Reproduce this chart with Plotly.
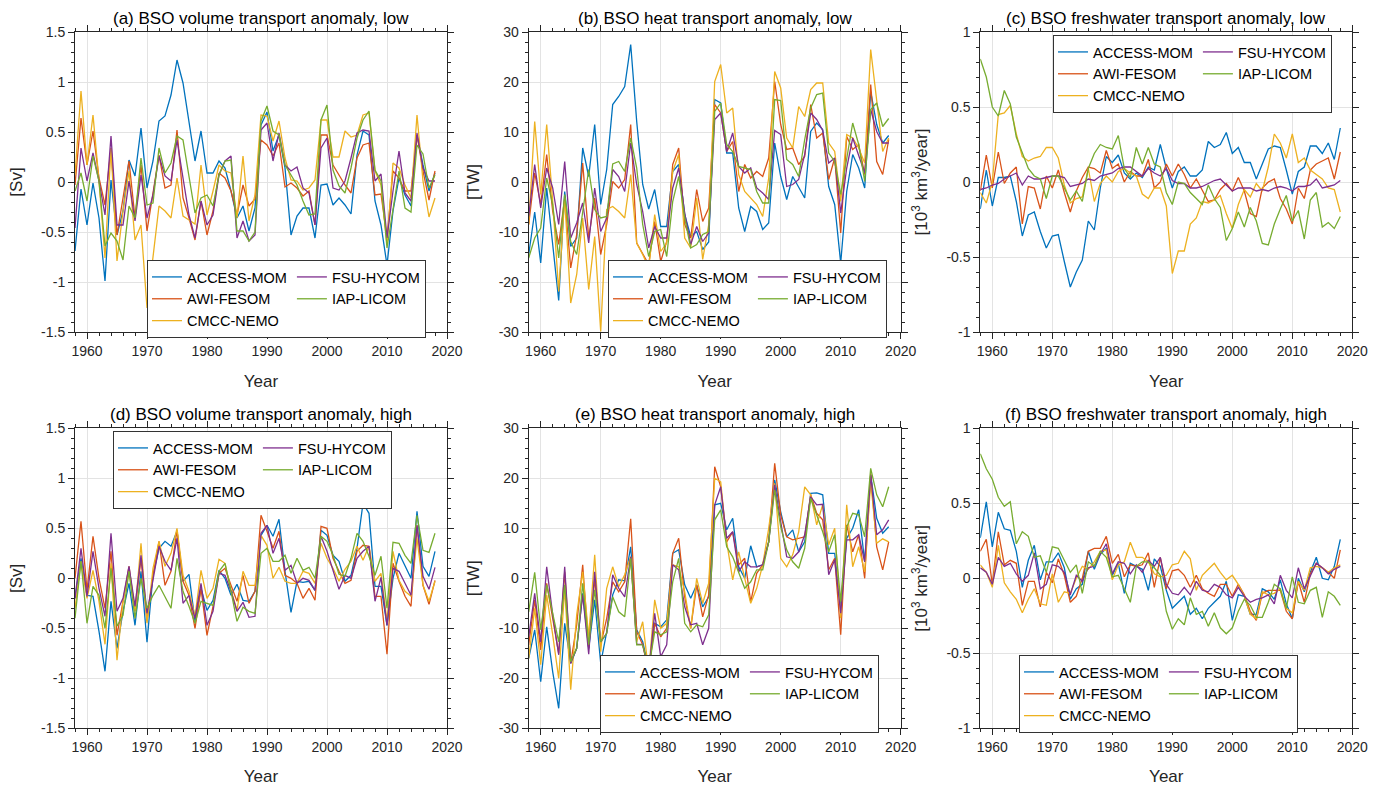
import plotly.graph_objects as go

years = list(range(1958, 2019))
models = ["ACCESS-MOM", "AWI-FESOM", "CMCC-NEMO", "FSU-HYCOM", "IAP-LICOM"]
colors = ["#0072BD", "#D95319", "#EDB120", "#7E2F8E", "#77AC30"]

titles = [
    "(a) BSO volume transport anomaly, low",
    "(b) BSO heat transport anomaly, low",
    "(c) BSO freshwater transport anomaly, low",
    "(d) BSO volume transport anomaly, high",
    "(e) BSO heat transport anomaly, high",
    "(f) BSO freshwater transport anomaly, high",
]
ylabels = ["[Sv]", "[TW]", "[10<sup>3</sup> km<sup>3</sup>/year]"]
xtick_vals = [1960, 1970, 1980, 1990, 2000, 2010, 2020]
xtick_text = ["1960", "1970", "1980", "1990", "2000", "2010", "2020"]
vol_ticks = [-1.5, -1, -0.5, 0, 0.5, 1, 1.5]
vol_text = ["-1.5", "-1", "-0.5", "0", "0.5", "1", "1.5"]
heat_ticks = [-30, -20, -10, 0, 10, 20, 30]
heat_text = ["-30", "-20", "-10", "0", "10", "20", "30"]
fw_ticks = [-1, -0.5, 0, 0.5, 1]
fw_text = ["-1", "-0.5", "0", "0.5", "1"]

# ---------------- (a) volume, low [Sv] ----------------
vol_low_access = [-0.69, -0.07, -0.43, -0.01, -0.36, -0.99, 0.02, -0.53, -0.29, 0.22,
                  0.06, 0.54, -0.06, 0.21, 0.61, 0.66, 0.87, 1.22, 0.99, 0.61,
                  0.21, 0.51, 0.09, 0.09, 0.21, 0.14, -0.09, -0.36, -0.24, -0.49,
                  -0.26, 0.57, 0.70, 0.31, 0.47, 0.14, -0.53, -0.34, -0.26, -0.26,
                  -0.56, -0.03, -0.02, -0.23, -0.16, -0.23, -0.32, 0.27, 0.51, 0.47,
                  -0.19, -0.43, -0.83, -0.29, 0.04, -0.13, -0.24, 0.47, 0.17, -0.09,
                  0.09]
vol_low_awi = [-0.03, 0.64, 0.17, 0.51, 0.04, -0.23, 0.34, -0.53, -0.16, 0.21,
               -0.36, 0.17, -0.49, -0.09, 0.27, -0.06, -0.03, 0.52, -0.16, -0.36,
               -0.58, -0.19, -0.53, -0.29, 0.09, 0.04, -0.09, -0.33, -0.03, -0.24,
               -0.17, 0.42, 0.37, 0.26, 0.39, -0.05, -0.01, -0.06, -0.14, -0.09,
               -0.43, 0.47, 0.47, 0.17, 0.07, -0.03, -0.11, 0.24, 0.37, 0.39,
               -0.13, -0.12, -0.56, 0.11, 0.04, -0.09, -0.09, 0.47, 0.11, -0.18,
               0.11]
vol_low_cmcc = [0.07, 0.91, 0.17, 0.67, 0.01, -0.76, 0.34, -0.79, -0.29, 0.11,
                -0.58, -0.43, -1.26, -0.72, -0.24, -0.29, -0.36, 0.04, -0.34, -0.38,
                -0.42, 0.17, -0.33, -0.09, 0.17, 0.11, 0.09, -0.36, 0.26, -0.39,
                -0.13, 0.67, 0.66, 0.41, 0.61, 0.24, 0.02, 0.01, -0.08, -0.06,
                0.02, 0.62, 0.62, 0.25, 0.25, 0.51, 0.45, 0.47, 0.67, 0.69,
                0.11, -0.03, -0.63, 0.19, 0.14, -0.03, -0.16, 0.67, 0.01, -0.35,
                -0.16]
vol_low_fsu = [-0.46, 0.34, 0.01, 0.29, 0.01, -0.33, 0.46, -0.43, -0.43, 0.01,
               -0.39, 0.07, -0.36, -0.13, 0.26, 0.06, 0.01, 0.42, 0.04, -0.33,
               -0.56, -0.19, -0.43, -0.33, 0.07, 0.21, 0.26, -0.56, -0.39, -0.59,
               -0.53, 0.52, 0.59, 0.21, 0.49, 0.17, 0.11, 0.15, -0.06, -0.11,
               -0.43, 0.34, 0.44, -0.06, -0.08, 0.01, 0.24, 0.49, 0.52, 0.51,
               0.01, 0.08, -0.56, -0.09, 0.31, -0.11, -0.19, 0.49, 0.14, 0.01,
               0.01]
vol_low_iap = [-0.09, 0.09, -0.19, 0.26, 0.01, -0.64, -0.51, -0.59, -0.78, -0.24,
               -0.36, 0.24, -0.23, -0.21, 0.34, 0.09, 0.19, 0.46, 0.42, 0.04,
               -0.31, -0.16, -0.13, -0.24, 0.07, 0.21, 0.22, -0.49, -0.49, -0.59,
               -0.50, 0.61, 0.76, 0.51, 0.47, 0.17, 0.07, -0.03, -0.19, -0.33,
               -0.32, 0.62, 0.77, 0.12, -0.04, -0.11, 0.14, 0.44, 0.62, 0.71,
               0.12, 0.01, -0.66, -0.29, 0.11, -0.26, -0.30, 0.37, 0.28, -0.06,
               0.07]

# ---------------- (b) heat, low [TW] ----------------
heat_low_access = [-14.5, -6, -16.2, -1.2, -12.5, -23.7, -1.9, -12.9, -11.2, 6.8,
                   1.1, 11.5, -4.5, 2.5, 15.5, 17.1, 19.1, 27.5, 12.1, -0.5,
                   -5.4, -1.5, -8.9, -8.9, 2.1, 3.5, -6.5, -10.9, -9.9, -13.5,
                   -12, 16.5, 15.8, 5.8, 5.8, -5.2, -9.9, -4.9, -5.9, -9.5,
                   -8.2, 7.8, 1.1, -3.5, 1.1, -1.2, -3.2, 10.1, 11.8, 10.5,
                   -0.9, -4.5, -16.2, -1.9, 5.5, 2.8, -1.2, 18.1, 11.5, 7.8,
                   9.3]
heat_low_awi = [-8.5, 1.8, -4.5, 5.5, -5.9, -12.5, -3.2, -17.2, -10.5, 3.8,
                -11.2, -3.2, -14.5, -8.5, 0.1, -1.2, 0.5, 11.5, -12.2, -14.5,
                -16.5, -7.9, -15.9, -11.9, 3.5, 6.8, -8.5, -11.2, -1.5, -7.9,
                -5.2, 15.5, 13.8, 6.1, 8.1, -1.9, 3.5, 0.8, 2.1, 1.1,
                4.8, 20.1, 11.5, 6.5, 6.8, 3.5, 5.1, 15.5, 8.8, 9.8,
                0.5, 4.8, -10.2, 9.1, 6.5, 7.5, 1.5, 19.5, 4.1, 1.5,
                8.5]
heat_low_cmcc = [-8.5, 12.1, -2.5, 11.5, -3.9, -21.9, -3.2, -24.2, -18.5, -7.2,
                 -21.5, -10.9, -29.9, -5.5, -4.9, -5.9, -7.2, 1.5, -12.2, -14.5,
                 -17.2, -6.5, -13.9, -12.2, 2.1, 5.5, -11.2, -13.2, -3.2, -15.5,
                 -8.5, 20.1, 23.5, 13.8, 14.8, 1.5, -1.9, -3.2, -4.5, -6.9,
                 0.8, 22.1, 18.8, 8.8, 6.8, 15.1, 13.1, 18.5, 19.8, 19.8,
                 7.8, 6.1, -3.9, 9.5, 8.8, 6.8, 3.8, 26.5, 16.1, 6.1,
                 8.8]
heat_low_fsu = [-6.9, 3.5, -5.2, 2.8, -1.2, -8.5, 4.1, -11.2, -8.2, -4.2,
                -12.2, -1.2, -9.9, -7.2, 2.5, 1.1, -1.9, 7.8, -0.5, -5.9,
                -13.2, -8.9, -11.2, -11.2, -1.2, 2.8, -6.2, -12.5, -8.9, -11.9,
                -10.2, 12.5, 13.8, 6.1, 9.8, 3.1, 1.8, 2.8, -1.2, -2.2,
                -3.5, 10.3, 9.5, -0.9, -0.5, 0.5, 5.5, 13.8, 12.5, 10.3,
                3.8, 4.8, -6.2, 2.8, 8.8, 5.5, 1.8, 14.5, 10.1, 7.8,
                7.8]
heat_low_iap = [-15.2, -11.2, -9.2, 0.8, -4.5, -15.2, -2.5, -11.9, -14.5, -5.9,
                2.5, -5.5, -7.2, -6.9, 3.6, 4.1, 2.1, 8.8, 2.8, -8.5,
                -14.9, -9.9, -9.5, -14.9, -3.9, 1.1, -7.2, -13.2, -12.5, -10.5,
                -9.9, 14.1, 15.8, 7.5, 6.1, 3.1, 2.8, 2.5, -1.9, -4.2,
                -4.2, 16.5, 16.3, 4.5, 3.5, 1.1, 8.5, 14.8, 17.5, 17.8,
                5.8, 4.1, -2.5, 4.8, 11.8, 7.5, 0.1, 14.5, 15.8, 11.1,
                12.7]

# ---------------- (c) freshwater, low [10^3 km^3/year] ----------------
fw_low_access = [-0.18, 0.08, -0.16, 0.03, 0.03, 0.04, -0.13, -0.36, -0.22, -0.20,
                 -0.33, -0.44, -0.36, -0.35, -0.53, -0.70, -0.60, -0.52, -0.26, -0.32,
                 -0.04, 0.17, 0.13, 0.18, 0.06, 0.02, 0.06, 0.03, 0.10, 0.08,
                 0.25, 0.09, -0.04, 0.07, 0.10, 0.04, 0.04, 0.08, 0.27, 0.23,
                 0.25, 0.33, 0.19, 0.23, 0.13, 0.13, 0.02, 0.12, 0.22, 0.24,
                 0.23, 0.08, -0.08, 0.07, 0.10, 0.24, 0.24, 0.19, 0.26, 0.15,
                 0.36]
fw_low_awi = [-0.06, 0.18, -0.04, 0.20, -0.01, 0.06, 0.10, -0.28, -0.03, -0.04,
              -0.18, 0.04, -0.04, 0.08, -0.07, -0.20, -0.06, 0.03, 0.10, 0.09,
              0.06, 0.21, 0.09, 0.12, 0.00, 0.07, 0.04, 0.04, 0.15, -0.04,
              0.00, 0.12, 0.04, 0.12, 0.05, -0.04, 0.02, -0.06, -0.13, -0.12,
              -0.05, -0.01, -0.06, 0.03, -0.06, -0.21, -0.23, -0.04, 0.00, 0.02,
              -0.11, -0.18, -0.28, -0.04, -0.11, 0.08, 0.12, 0.14, 0.16, 0.02,
              0.20]
fw_low_cmcc = [-0.07, -0.14, 0.00, 0.45, 0.46, 0.51, 0.32, 0.17, 0.14, 0.16,
               0.17, 0.23, 0.23, 0.16, -0.02, -0.14, -0.11, -0.10, 0.09, -0.13,
               -0.01, 0.04, 0.00, 0.07, 0.09, 0.06, 0.04, -0.08, -0.11, -0.04,
               -0.04, -0.16, -0.61, -0.46, -0.46, -0.28, -0.24, -0.13, -0.14, -0.12,
               -0.09, -0.21, -0.31, -0.15, -0.05, -0.10, -0.01, -0.06, 0.10, 0.32,
               0.26, 0.16, 0.32, 0.13, 0.16, 0.08, 0.05, 0.02, -0.04, -0.05,
               -0.20]
fw_low_fsu = [-0.05, -0.04, -0.02, -0.01, 0.02, 0.04, 0.06, -0.02, 0.04, 0.02,
              0.02, 0.03, 0.04, 0.04, 0.03, -0.03, -0.02, -0.01, 0.02, 0.01,
              0.04, 0.05, 0.06, 0.09, 0.10, 0.10, 0.07, 0.04, 0.09, 0.06,
              0.04, 0.09, 0.01, -0.01, -0.01, -0.04, -0.04, -0.03, -0.01, 0.01,
              0.02, -0.02, -0.06, -0.04, -0.04, -0.04, -0.06, -0.05, -0.06, -0.04,
              -0.03, -0.04, -0.06, -0.03, -0.03, -0.02, 0.02, -0.04, -0.03, -0.02,
              0.01]
fw_low_iap = [0.82, 0.70, 0.50, 0.44, 0.61, 0.52, 0.30, 0.20, 0.09, 0.04,
              0.02, -0.11, 0.04, 0.04, -0.04, -0.12, -0.06, -0.13, 0.09, 0.19,
              0.25, 0.23, 0.22, 0.31, 0.09, 0.03, 0.23, 0.12, 0.23, 0.12,
              0.10, -0.07, -0.15, 0.00, -0.01, -0.07, -0.11, -0.15, -0.02, -0.11,
              -0.17, -0.39, -0.31, -0.20, -0.30, -0.17, -0.26, -0.41, -0.42, -0.28,
              -0.18, -0.09, -0.26, -0.19, -0.38, -0.12, -0.07, -0.30, -0.27, -0.31,
              -0.23]

# ---------------- (d) volume, high [Sv] ----------------
vol_high_access = [-0.20, 0.20, -0.17, -0.18, -0.53, -0.93, -0.23, -0.70, -0.33, -0.05,
                   -0.47, 0.07, -0.64, 0.03, 0.30, 0.37, 0.32, 0.47, -0.03, 0.04,
                   -0.43, -0.10, -0.32, -0.22, 0.08, 0.00, -0.17, -0.06, -0.22, -0.23,
                   -0.13, 0.43, 0.53, 0.42, 0.59, 0.07, -0.34, -0.03, -0.04, -0.03,
                   -0.12, 0.48, 0.43, 0.23, 0.17, -0.03, 0.03, 0.30, 0.75, 0.65,
                   -0.08, -0.08, -0.47, 0.00, 0.25, 0.13, 0.00, 0.67, 0.12, 0.02,
                   0.27]
vol_high_awi = [0.00, 0.57, -0.12, 0.42, 0.00, -0.30, 0.27, -0.57, -0.23, 0.12,
                -0.33, 0.20, -0.43, 0.03, 0.37, -0.07, 0.07, 0.48, -0.03, -0.17,
                -0.50, -0.10, -0.57, -0.28, 0.05, 0.10, -0.07, -0.23, 0.03, -0.25,
                -0.13, 0.63, 0.47, 0.30, 0.47, 0.03, 0.00, -0.05, -0.20, -0.10,
                -0.22, 0.52, 0.50, 0.20, 0.07, -0.05, -0.02, 0.27, 0.33, 0.32,
                -0.18, -0.18, -0.76, 0.15, -0.03, -0.18, -0.28, 0.53, -0.07, -0.26,
                -0.02]
vol_high_cmcc = [-0.30, 0.17, -0.20, 0.08, -0.23, -0.66, 0.15, -0.82, -0.23, 0.07,
                 -0.33, 0.35, -0.45, 0.10, 0.37, 0.12, 0.25, 0.50, 0.03, -0.13,
                 -0.38, 0.08, -0.20, -0.10, 0.19, 0.15, -0.12, -0.32, 0.07, -0.07,
                 -0.07, 0.43, 0.33, 0.00, 0.11, -0.03, -0.05, -0.05, 0.07, 0.05,
                 -0.05, 0.35, 0.20, 0.10, -0.03, 0.09, 0.17, 0.32, 0.18, 0.32,
                 -0.03, 0.05, -0.43, 0.27, -0.02, -0.13, -0.18, 0.40, -0.07, -0.23,
                 -0.03]
vol_high_fsu = [-0.20, 0.30, -0.18, 0.27, -0.10, -0.38, 0.45, -0.33, -0.20, 0.12,
                -0.28, 0.23, -0.35, 0.00, 0.32, 0.17, 0.08, 0.40, -0.25, -0.17,
                -0.40, -0.05, -0.47, -0.33, 0.05, 0.03, -0.13, -0.33, -0.24, -0.39,
                -0.38, 0.45, 0.53, 0.25, 0.40, 0.08, 0.13, -0.05, 0.00, -0.02,
                -0.12, 0.42, 0.27, 0.08, -0.11, 0.03, 0.00, 0.20, 0.27, 0.32,
                -0.23, 0.01, -0.47, 0.10, 0.07, -0.05, -0.17, 0.53, 0.02, -0.11,
                0.11]
vol_high_iap = [-0.40, 0.17, -0.45, -0.08, -0.17, -0.50, 0.10, -0.48, -0.37, 0.07,
                -0.40, 0.00, -0.30, -0.17, -0.07, -0.18, -0.30, 0.20, -0.13, -0.28,
                -0.45, -0.23, -0.25, -0.27, 0.07, 0.15, -0.13, -0.43, -0.29, -0.33,
                -0.35, 0.25, 0.30, 0.17, 0.17, 0.23, 0.05, 0.20, 0.08, 0.11,
                0.00, 0.42, 0.37, 0.23, 0.04, 0.02, 0.20, 0.45, 0.37, 0.22,
                0.03, 0.22, -0.30, 0.36, 0.35, 0.23, 0.15, 0.63, 0.28, 0.26,
                0.45]

# ---------------- (e) heat, high [TW] ----------------
heat_high_access = [-16, -10.3, -20.7, -9.7, -18.7, -26, -9, -17, -14, -3,
                    -14, -4.3, -17, -10.7, -3.3, -0.3, -0.5, 6.3, -10.3, -12.7,
                    -18, -9, -9.7, -8.3, 5, 5.7, -1.3, -4, -1.3, -5.7,
                    -3.7, 14.7, 15, 9.7, 12, 2.3, 0, 6.5, 2.3, 2.7,
                    7.3, 19.7, 13.3, 8.3, 9.7, 5.3, 7.3, 17, 17.1, 16.7,
                    5, 5, -5.7, 8, 10, 13.7, 3.3, 20.7, 12, 9,
                    10.3]
heat_high_awi = [-13.3, -4.3, -14.3, -1, -8, -15, 1.3, -17, -9.3, 2.7,
                 -14, 0, -13.3, -8, -0.7, -2.7, -0.7, 11.9, -10.7, -13.3,
                 -18.7, -9, -11.7, -10, 5, 8, -3.7, -10, -1.3, -7.7,
                 -3.3, 22.3, 18.3, 7.3, 9.3, 2.7, 4, -4.7, 1, 2.7,
                 7.3, 23, 12.7, 8.3, 7.7, 8, 8.3, 16.7, 13, 11.7,
                 1.7, 4, -11.3, 10.7, 5.3, 8.7, 0, 21, 6.3, 1.7,
                 7.3]
heat_high_cmcc = [-16, -6, -17.3, -3.3, -11.3, -20, -2, -22.3, -7.3, 1.3,
                  -11.7, 4.7, -14.7, -2, 2.3, -1.7, 0.7, 4.3, -12.7, -8.7,
                  -18.7, -4.3, -10, -9, 2.7, 2.3, -2.7, -10, 0, -5,
                  -1, 20, 19.3, 7.3, -0.3, 5.3, 0, -5, -2, 2.7,
                  10, 19, 4, 2.3, 4.7, 9.3, 18.3, 16.7, 10.7, 14.7,
                  6.7, 10, -8, 14.7, 2.3, 6.3, 1.3, 19.3, 7, 7.9,
                  7.3]
heat_high_fsu = [-11.7, -3, -12.7, 2.3, -7.3, -15.3, 2.3, -17, -14, -3.3,
                 -15.2, 1.3, -12.7, -11, 0.7, -2, -3.7, 4.3, -13.2, -13.2,
                 -18.7, -7, -15.7, -13.3, 2.7, 1.7, -5.7, -9.3, -9, -13.3,
                 -10, 14.7, 18.3, 8, 9.3, 1.3, 3.3, 2.3, 2.3, 2.7,
                 7.3, 18.7, 11.3, 4.3, 4, 5.3, 8.7, 16.3, 14.7, 14.8,
                 0.7, 3.7, -7, 7.7, 7.7, 8.7, 3.3, 20.7, 8.7, 9.7,
                 11.7]
heat_high_iap = [-6.7, 1.2, -10.3, -1.3, -7, -12.7, -1.3, -16.7, -14, -1,
                 -13.3, -2.3, -12.7, -11, -3.7, -6.7, -7.7, 4, -13.3, -13.3,
                 -18, -10.7, -11.3, -10.7, -0.7, 4, -9, -10.7, -9.3, -9.7,
                 -7.3, 11.7, 13.7, 6.3, 4.3, 1.3, -2, -0.7, 1.7, 1.7,
                 7.3, 17.7, 10.3, 5.7, 3.3, 2, 6, 16, 12.7, 9.3,
                 5.3, 8.7, -4.7, 10.3, 13, 12.7, 8.3, 22, 16.7, 14.3,
                 18.3]

# ---------------- (f) freshwater, high [10^3 km^3/year] ----------------
fw_high_access = [0.27, 0.51, 0.21, 0.44, 0.33, 0.32, 0.18, -0.06, 0.12, 0.22,
                  -0.01, 0.11, 0.11, 0.17, 0.07, -0.14, -0.07, -0.04, 0.18, 0.06,
                  0.16, 0.20, 0.02, 0.10, -0.10, 0.10, 0.08, 0.06, -0.08, 0.13,
                  0.08, -0.08, -0.20, -0.16, -0.12, -0.24, -0.20, -0.27, -0.20, -0.16,
                  -0.12, -0.02, -0.28, -0.11, -0.12, -0.24, -0.24, -0.07, -0.09, -0.14,
                  -0.01, -0.17, -0.27, 0.00, -0.09, 0.04, 0.14, 0.00, -0.01, 0.08,
                  0.26]
fw_high_awi = [0.18, 0.26, -0.04, 0.31, 0.09, 0.12, 0.10, -0.18, -0.02, -0.02,
               -0.19, 0.04, -0.03, 0.13, 0.02, -0.16, -0.12, 0.00, 0.18, 0.20,
               0.20, 0.28, 0.10, 0.16, 0.01, 0.09, 0.08, 0.09, 0.17, -0.06,
               0.14, -0.07, 0.05, 0.06, 0.02, -0.06, 0.02, -0.07, -0.10, -0.12,
               -0.04, -0.04, -0.12, -0.04, -0.11, -0.22, -0.28, -0.10, -0.08, -0.08,
               -0.08, -0.22, -0.27, -0.02, -0.16, 0.03, 0.10, 0.07, 0.04, 0.00,
               0.19]
fw_high_cmcc = [0.09, 0.04, -0.06, 0.22, -0.03, -0.09, -0.14, -0.23, -0.14, -0.07,
                -0.17, -0.18, 0.03, -0.16, -0.09, -0.10, 0.00, 0.08, 0.06, 0.11,
                0.18, 0.19, -0.01, 0.09, 0.11, 0.24, 0.14, 0.14, 0.11, 0.03,
                0.01, 0.02, 0.09, 0.10, 0.18, 0.13, -0.08, 0.02, 0.06, 0.10,
                0.04, -0.01, 0.02, -0.04, -0.12, -0.24, -0.27, -0.09, -0.11, -0.10,
                -0.07, -0.20, -0.23, -0.02, -0.08, 0.07, 0.08, 0.07, 0.04, 0.07,
                0.09]
fw_high_fsu = [0.07, 0.04, -0.04, 0.14, 0.08, 0.10, 0.03, -0.02, 0.02, 0.17,
               -0.07, -0.04, 0.09, 0.08, 0.04, -0.11, 0.02, -0.02, 0.07, 0.08,
               0.16, 0.23, 0.03, 0.11, 0.10, 0.03, 0.09, 0.04, 0.12, 0.08,
               0.14, -0.04, -0.10, -0.11, -0.06, -0.11, -0.02, -0.08, -0.09, -0.04,
               -0.06, -0.11, -0.13, -0.06, -0.12, -0.16, -0.14, -0.13, -0.11, -0.17,
               0.02, -0.08, -0.13, 0.07, -0.07, 0.02, 0.10, 0.07, 0.03, 0.06,
               0.08]
fw_high_iap = [0.83, 0.73, 0.66, 0.54, 0.48, 0.51, 0.23, 0.31, 0.28, 0.14,
               0.15, 0.04, 0.21, 0.20, 0.12, 0.04, 0.09, -0.10, 0.11, 0.08,
               0.18, 0.14, 0.01, 0.02, -0.07, -0.16, 0.08, 0.11, 0.11, 0.07,
               0.02, -0.22, -0.34, -0.27, -0.31, -0.13, -0.24, -0.22, -0.32, -0.23,
               -0.33, -0.37, -0.33, -0.22, -0.14, -0.18, -0.26, -0.26, -0.16, -0.04,
               -0.07, -0.20, 0.01, -0.16, -0.17, -0.08, -0.06, -0.26, -0.09, -0.12,
               -0.18]

panel_series = [
    [vol_low_access, vol_low_awi, vol_low_cmcc, vol_low_fsu, vol_low_iap],
    [heat_low_access, heat_low_awi, heat_low_cmcc, heat_low_fsu, heat_low_iap],
    [fw_low_access, fw_low_awi, fw_low_cmcc, fw_low_fsu, fw_low_iap],
    [vol_high_access, vol_high_awi, vol_high_cmcc, vol_high_fsu, vol_high_iap],
    [heat_high_access, heat_high_awi, heat_high_cmcc, heat_high_fsu, heat_high_iap],
    [fw_high_access, fw_high_awi, fw_high_cmcc, fw_high_fsu, fw_high_iap],
]

W, H = 1375, 786
col_px = [(75, 447), (528.7, 900.7), (980.3, 1352.3)]
row_px = [(32, 332), (428.3, 728.3)]
yinfo = [
    ([-1.5, 1.5], vol_ticks, vol_text, 0.1, ylabels[0]),
    ([-30, 30], heat_ticks, heat_text, 2, ylabels[1]),
    ([-1, 1], fw_ticks, fw_text, 0.1, ylabels[2]),
]
# legend top-left corners in pixels
legend_px = [(147, 260), (608, 260), (1053, 35), (113, 431), (600, 655), (1019, 655)]

AX = "#262626"
FONT = "Arial, Liberation Sans, sans-serif"

fig = go.Figure()
layout = dict(
    width=W, height=H, autosize=False,
    margin=dict(l=0, r=0, t=0, b=0),
    paper_bgcolor="white", plot_bgcolor="white",
    font=dict(family=FONT, size=14, color=AX),
    annotations=[],
)

for p in range(6):
    r, c = divmod(p, 3)
    n = p + 1
    xs = "" if n == 1 else str(n)
    x0, x1 = col_px[c]
    y0, y1 = row_px[r]
    yr, yt, ytt, ymin, ylab = yinfo[c]
    lname = "legend" + xs
    for k in range(5):
        fig.add_trace(go.Scatter(
            x=years, y=panel_series[p][k], mode="lines", name=models[k],
            line=dict(color=colors[k], width=1.3),
            xaxis="x" + xs, yaxis="y" + xs,
            legend=lname, legendgroup=f"p{n}g{1 if k < 3 else 2}",
            showlegend=True,
        ))
    layout["xaxis" + xs] = dict(
        domain=[x0 / W, x1 / W], anchor="y" + xs, range=[1958, 2020],
        tickmode="array", tickvals=xtick_vals, ticktext=xtick_text,
        ticks="outside", ticklen=6, tickwidth=1, tickcolor=AX,
        minor=dict(tick0=1958, dtick=2, ticks="outside", ticklen=3, tickcolor=AX, showgrid=False),
        showline=True, linecolor=AX, linewidth=1, mirror="allticks",
        showgrid=True, gridcolor="#e3e3e3", gridwidth=1, zeroline=False,
        tickfont=dict(size=14, color=AX), automargin=False,
        title=dict(text="Year", font=dict(size=17, color=AX), standoff=17),
    )
    layout["yaxis" + xs] = dict(
        domain=[1 - y1 / H, 1 - y0 / H], anchor="x" + xs, range=yr,
        tickmode="array", tickvals=yt, ticktext=ytt,
        ticks="outside", ticklen=6, tickwidth=1, tickcolor=AX,
        minor=dict(tick0=0, dtick=ymin, ticks="outside", ticklen=3, tickcolor=AX, showgrid=False),
        showline=True, linecolor=AX, linewidth=1, mirror="allticks",
        showgrid=True, gridcolor="#e3e3e3", gridwidth=1, zeroline=False,
        tickfont=dict(size=14, color=AX), automargin=False,
        title=dict(text=ylab, font=dict(size=17, color=AX), standoff=14),
    )
    lx, ly = legend_px[p]
    layout[lname] = dict(
        x=lx / W, y=1 - ly / H, xanchor="left", yanchor="top",
        orientation="h", traceorder="grouped",
        bgcolor="white", bordercolor="#333333", borderwidth=1,
        font=dict(family=FONT, size=14.5, color="#000000"),
        itemwidth=30, tracegroupgap=0,
    )
    layout["annotations"].append(dict(
        text=titles[p], x=(x0 + x1) / 2 / W, y=1 - 18 / H if r == 0 else 1 - 414 / H,
        xref="paper", yref="paper", xanchor="center", yanchor="middle",
        showarrow=False, font=dict(family=FONT, size=17, color="#000000"),
    ))

fig.update_layout(**layout)
fig.write_html(
    "out.html",
    config={"displayModeBar": False},
    post_script="document.body.style.margin='0';document.body.style.overflow='hidden';",
)
